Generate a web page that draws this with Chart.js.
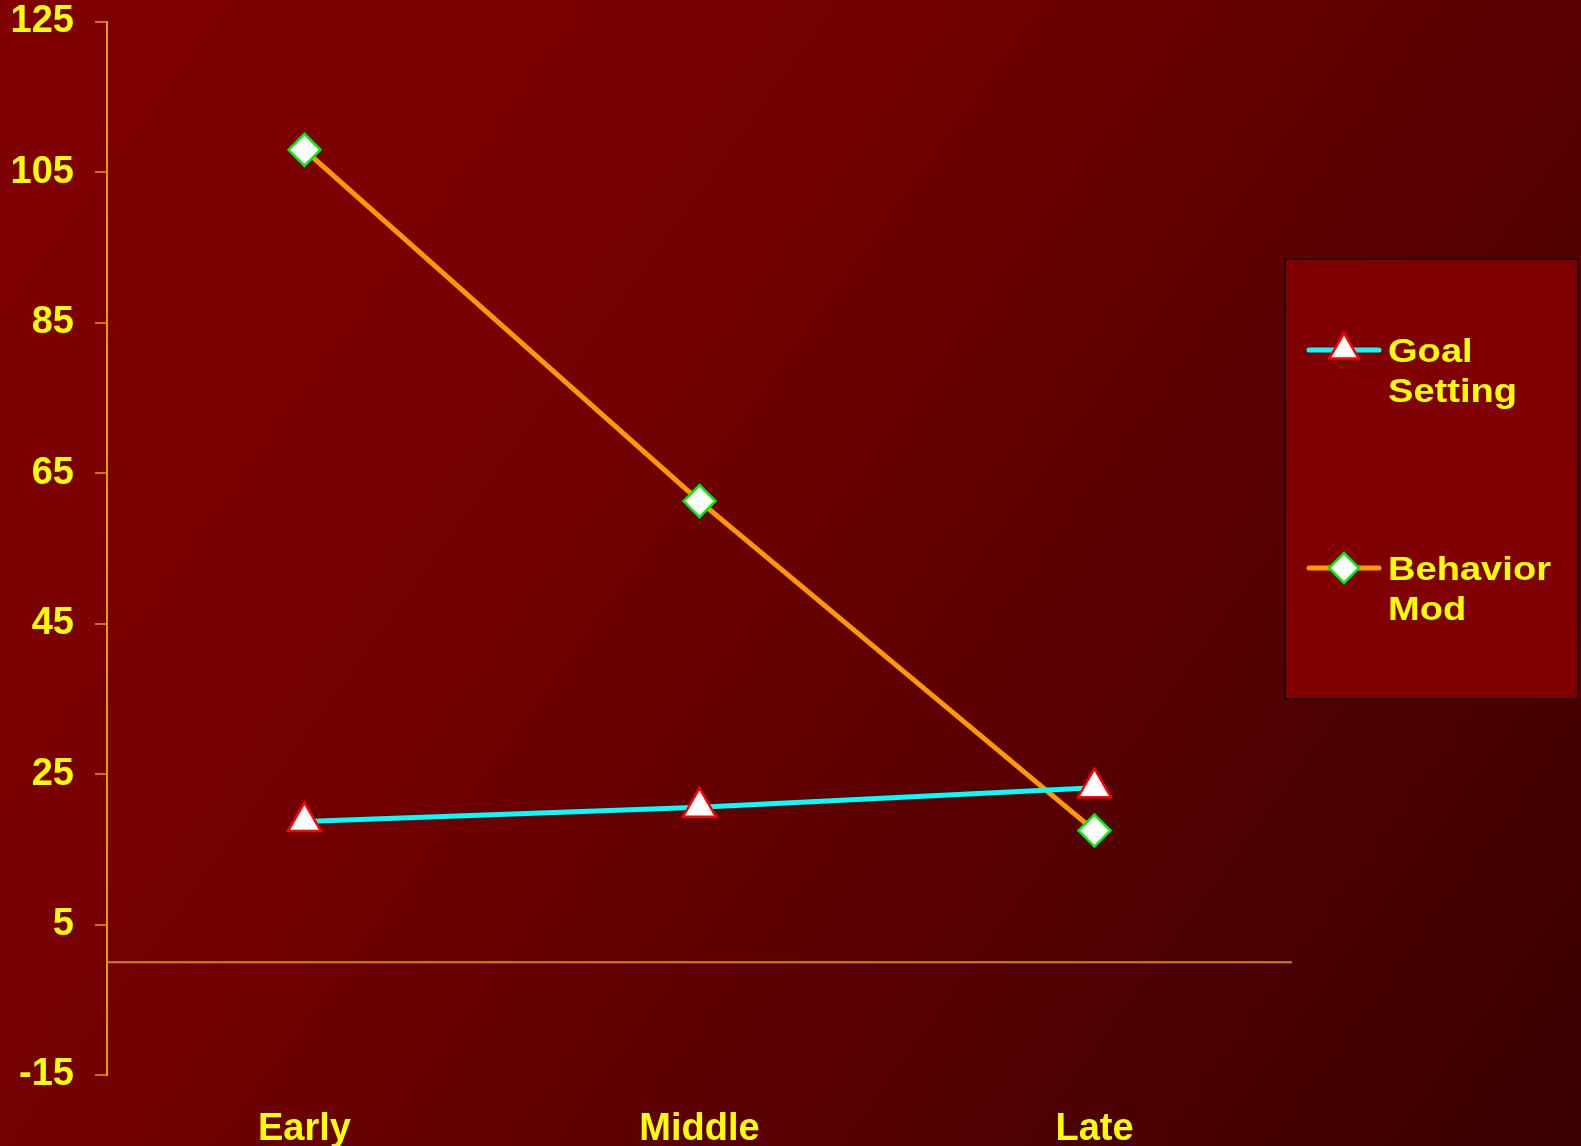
<!DOCTYPE html>
<html>
<head>
<meta charset="utf-8">
<title>Goal Setting vs Behavior Mod</title>
<script src="https://cdn.jsdelivr.net/npm/chart.js@4.4.1/dist/chart.umd.min.js"></script>
<style>
  html, body { margin: 0; padding: 0; background: #600000; }
  #wrap { width: 1581px; height: 1146px; position: relative; }
</style>
</head>
<body>
<div id="wrap"><canvas id="chart"></canvas></div>
<script>
const categories = ['Early', 'Middle', 'Late'];
const goalSetting = [18.7, 20.6, 23.2];
const behaviorMod = [108, 61.3, 17.5];
const seriesNames = ['Goal Setting', 'Behavior Mod'];
const yMin = -15;
const yMax = 125;
const yStep = 20;

const FONT = '"Liberation Sans", Arial, Helvetica, sans-serif';
const YELLOW = '#ffff00';

// background gradient + zero line
const backdrop = {
    id: 'backdrop',
    beforeDraw(chart) {
        const ctx = chart.ctx;
        const g = ctx.createLinearGradient(0, 0, chart.width, chart.height);
        g.addColorStop(0, '#800000');
        g.addColorStop(0.3, '#780000');
        g.addColorStop(1, '#3a0000');
        ctx.save();
        ctx.fillStyle = g;
        ctx.fillRect(0, 0, chart.width, chart.height);
        ctx.restore();
    },
    beforeDatasetsDraw(chart) {
        const ctx = chart.ctx;
        const y = chart.scales.y.getPixelForValue(0);
        ctx.save();
        ctx.strokeStyle = '#d08a00';
        ctx.lineWidth = 2;
        ctx.beginPath();
        ctx.moveTo(chart.chartArea.left, y);
        ctx.lineTo(chart.chartArea.right, y);
        ctx.stroke();
        ctx.restore();
    }
};

// boxed legend on the right, two-line labels
const boxLegend = {
    id: 'boxLegend',
    afterDraw(chart) {
        const ctx = chart.ctx;
        ctx.save();
        ctx.fillStyle = '#800000';
        ctx.fillRect(1285, 259, 293, 440);
        ctx.strokeStyle = '#2a0000';
        ctx.lineWidth = 2;
        ctx.strokeRect(1285, 259, 293, 440);

        const rows = [350, 568];
        chart.data.datasets.forEach((ds, i) => {
            const y = rows[i];
            ctx.strokeStyle = ds.borderColor;
            ctx.lineWidth = 5;
            ctx.lineCap = 'round';
            ctx.beginPath();
            ctx.moveTo(1309, y);
            ctx.lineTo(1379, y);
            ctx.stroke();

            ctx.fillStyle = ds.pointBackgroundColor;
            ctx.strokeStyle = ds.pointBorderColor;
            ctx.lineWidth = ds.pointBorderWidth;
            Chart.helpers.drawPoint(ctx, {
                pointStyle: ds.pointStyle,
                radius: ds.pointStyle === 'triangle' ? 17 : 15,
                rotation: 0,
                borderWidth: ds.pointBorderWidth
            }, 1344, y);

            ctx.fillStyle = YELLOW;
            ctx.font = 'bold 34px ' + FONT;
            ctx.textBaseline = 'alphabetic';
            ds.label.split(' ').forEach((word, k) => {
                ctx.save();
                ctx.translate(1388, y + 12 + k * 40);
                ctx.scale(1.12, 1);
                ctx.fillText(word, 0, 0);
                ctx.restore();
            });
        });
        ctx.restore();
    }
};

new Chart(document.getElementById('chart'), {
    type: 'line',
    data: {
        labels: categories,
        datasets: [
            {
                label: seriesNames[0],
                data: goalSetting,
                borderColor: '#00ffff',
                borderWidth: 5,
                pointStyle: 'triangle',
                pointRadius: 19,
                pointBackgroundColor: '#ffffff',
                pointBorderColor: '#ff0000',
                pointBorderWidth: 2.5,
                tension: 0
            },
            {
                label: seriesNames[1],
                data: behaviorMod,
                borderColor: '#ff9900',
                borderWidth: 5,
                pointStyle: 'rectRot',
                pointRadius: 16,
                pointBackgroundColor: '#ffffff',
                pointBorderColor: '#00ee00',
                pointBorderWidth: 2.5,
                tension: 0
            }
        ]
    },
    options: {
        animation: false,
        responsive: true,
        maintainAspectRatio: false,
        layout: { padding: { top: 22, right: 289, bottom: 0, left: 0 } },
        plugins: { legend: { display: false }, tooltip: { enabled: false } },
        scales: {
            x: {
                offset: true,
                grid: { display: false, drawTicks: false },
                border: { display: false },
                ticks: {
                    color: YELLOW,
                    padding: 36,
                    font: { family: FONT, size: 38, weight: 'bold', lineHeight: 1 }
                },
                afterFit(scale) { scale.height = 71; }
            },
            y: {
                min: yMin,
                max: yMax,
                ticks: {
                    stepSize: yStep,
                    color: YELLOW,
                    padding: 21,
                    font: { family: FONT, size: 38, weight: 'bold', lineHeight: 1 }
                },
                grid: {
                    drawOnChartArea: false,
                    drawTicks: true,
                    tickLength: 12,
                    color: '#c87800',
                    lineWidth: 2
                },
                border: { display: true, color: '#e0a000', width: 2 },
                afterFit(scale) {
                    scale.width = 107;
                    scale.paddingTop = 0;
                    scale.paddingBottom = 0;
                }
            }
        }
    },
    plugins: [backdrop, boxLegend]
});
</script>
</body>
</html>
